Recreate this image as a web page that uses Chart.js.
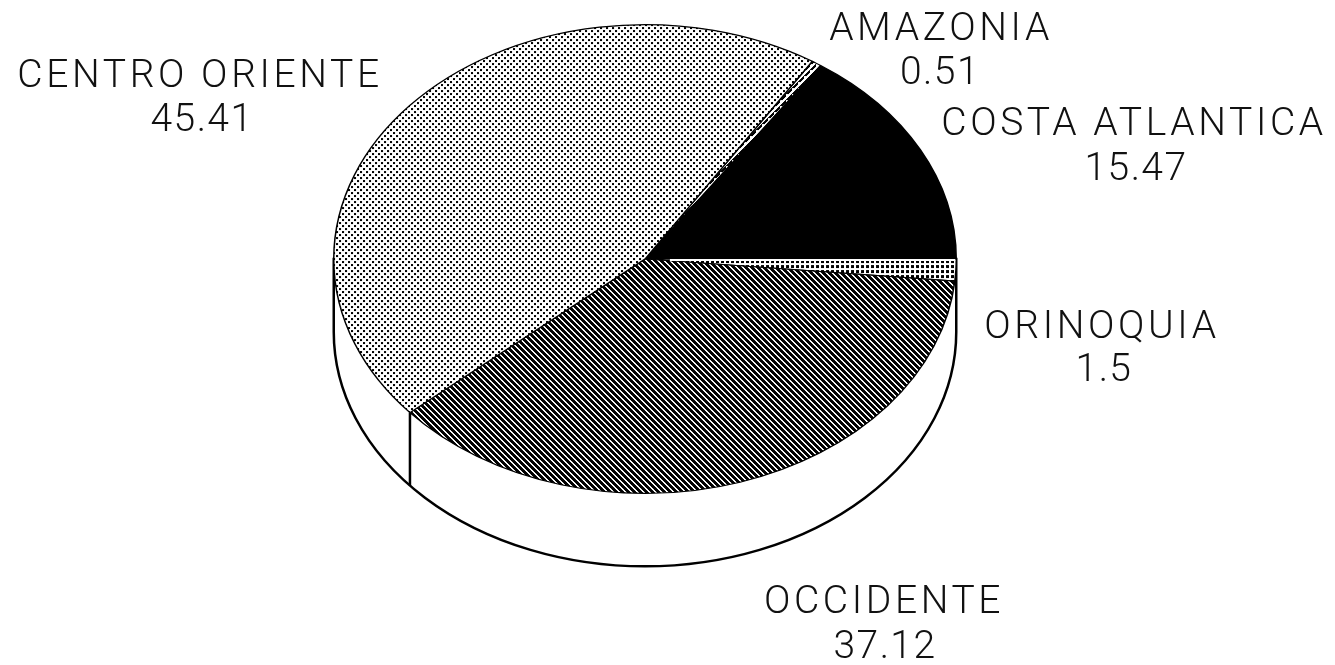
<!DOCTYPE html>
<html>
<head>
<meta charset="utf-8">
<style>
html, body { margin: 0; padding: 0; background: #fff; }
#wrap { width: 1335px; height: 665px; position: relative; }
</style>
<script src="https://cdn.jsdelivr.net/npm/chart.js@4/dist/chart.umd.min.js"></script>
</head>
<body>
<div id="wrap"><canvas id="grafico" width="1335" height="665"></canvas></div>
<script>
const regiones = ["AMAZONIA", "COSTA ATLANTICA", "ORINOQUIA", "OCCIDENTE", "CENTRO ORIENTE"];
const valores = [0.51, 15.47, 1.5, 37.12, 45.41];
const textoValores = ["0.51", "15.47", "1.5", "37.12", "45.41"];

// donde va cada etiqueta (centro del texto, dos lineas)
const posEtiquetas = [
    { x1: 941, y1: 27, x2: 940, y2: 71 },
    { x1: 1134, y1: 122, x2: 1136, y2: 167 },
    { x1: 1102, y1: 325, x2: 1104, y2: 368 },
    { x1: 884, y1: 600, x2: 885, y2: 645 },
    { x1: 200, y1: 74, x2: 202, y2: 118 }
];

const CENTRO_Y = 259;
const APLASTADO = 0.753;
const ALTO_PARED = 73;

function trama(tam, dibujar) {
    let c = document.createElement("canvas");
    c.width = tam;
    c.height = tam;
    let g = c.getContext("2d");
    g.fillStyle = "#fff";
    g.fillRect(0, 0, tam, tam);
    g.fillStyle = "#000";
    dibujar(g);
    let p = document.createElement("canvas").getContext("2d").createPattern(c, "repeat");
    // el grafico se aplasta en y, la trama no
    p.setTransform(new DOMMatrix().scale(1, 1 / APLASTADO));
    return p;
}

const rayas = trama(6, g => {
    for (let i = 0; i < 6; i++) {
        g.fillRect(i, i, 4, 1);
        g.fillRect(i - 6, i, 4, 1);
    }
});
const puntos = trama(6, g => {
    g.fillRect(0, 0, 2, 2);
    g.fillRect(3, 3, 2, 2);
});
const cuadros = trama(5, g => {
    g.fillRect(1, 1, 3, 3);
});
const rayasClaras = trama(6, g => {
    for (let i = 0; i < 6; i++) {
        g.fillRect((6 - i) % 6, i, 3, 1);
    }
});

const colores = [rayasClaras, "#000", cuadros, rayas, puntos];

const pastel3d = {
    id: "pastel3d",
    beforeDatasetsDraw(chart) {
        let ctx = chart.ctx;
        let arco = chart.getDatasetMeta(0).data[0];
        let r = arco.outerRadius;
        let ry = r * APLASTADO;

        // pared del cilindro
        ctx.save();
        ctx.lineWidth = 2.5;
        ctx.strokeStyle = "#000";
        ctx.fillStyle = "#fff";
        ctx.beginPath();
        ctx.moveTo(arco.x - r, CENTRO_Y);
        ctx.lineTo(arco.x - r, CENTRO_Y + ALTO_PARED);
        ctx.ellipse(arco.x, CENTRO_Y + ALTO_PARED, r, ry, 0, Math.PI, 0, true);
        ctx.lineTo(arco.x + r, CENTRO_Y);
        ctx.closePath();
        ctx.fill();
        ctx.stroke();

        // linea vertical donde termina occidente
        let fin = chart.getDatasetMeta(0).data[3].endAngle;
        let px = arco.x + r * Math.cos(fin);
        let py = CENTRO_Y + ry * Math.sin(fin);
        ctx.beginPath();
        ctx.moveTo(px, py);
        ctx.lineTo(px, py + ALTO_PARED);
        ctx.stroke();
        ctx.restore();

        ctx.save();
        ctx.translate(0, CENTRO_Y);
        ctx.scale(1, APLASTADO);
        ctx.translate(0, -arco.y);
    },
    afterDatasetsDraw(chart) {
        let ctx = chart.ctx;
        ctx.restore();

        // filo blanco entre costa atlantica y orinoquia
        let arco = chart.getDatasetMeta(0).data[2];
        let r = arco.outerRadius;
        let a = arco.startAngle;
        ctx.save();
        ctx.strokeStyle = "#fff";
        ctx.lineWidth = 2;
        ctx.beginPath();
        ctx.moveTo(arco.x + 0.08 * r * Math.cos(a), CENTRO_Y + 1);
        ctx.lineTo(arco.x + r * Math.cos(a) - 1, CENTRO_Y + 1);
        ctx.stroke();
        ctx.restore();

        ctx.save();
        ctx.fillStyle = "#111";
        ctx.textAlign = "center";
        ctx.textBaseline = "middle";
        ctx.font = "300 39px Roboto";
        regiones.forEach((nombre, i) => {
            let p = posEtiquetas[i];
            ctx.letterSpacing = "3.6px";
            ctx.fillText(nombre, p.x1, p.y1 + 3);
            ctx.letterSpacing = "1.4px";
            ctx.fillText(textoValores[i], p.x2, p.y2 + 3);
        });
        ctx.restore();
    }
};

new Chart(document.getElementById("grafico"), {
    type: "pie",
    data: {
        labels: regiones,
        datasets: [{
            data: valores,
            backgroundColor: colores,
            borderColor: "#000",
            borderWidth: 1.5
        }]
    },
    options: {
        responsive: false,
        animation: false,
        rotation: 32.5,
        layout: { padding: { left: 333, right: 378, top: 20, bottom: 21 } },
        plugins: {
            legend: { display: false },
            tooltip: { enabled: false }
        }
    },
    plugins: [pastel3d]
});
</script>
</body>
</html>
